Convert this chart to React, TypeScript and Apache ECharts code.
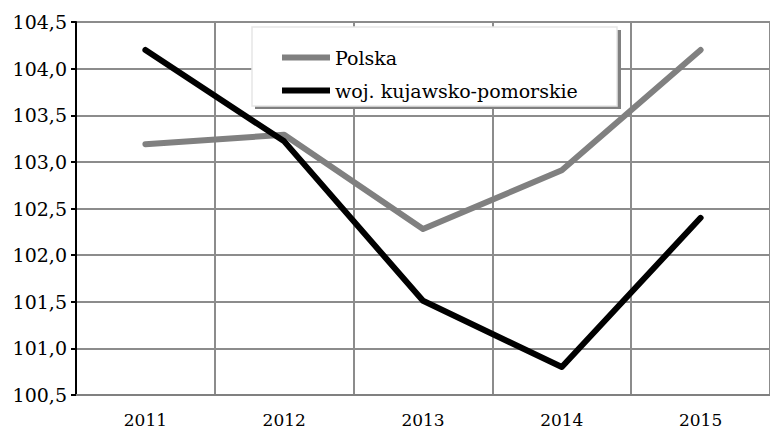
import React, { useEffect, useRef } from "react";
import * as echarts from "echarts";

const years = ["2011", "2012", "2013", "2014", "2015"];
const polska = [103.19, 103.29, 102.28, 102.91, 104.2];
const kujawsko = [104.2, 103.22, 101.51, 100.8, 102.4];
const seriesNames = ["Polska", "woj. kujawsko-pomorskie"];

const FONT = "DejaVu Serif";

export default function App() {
  const ref = useRef<HTMLDivElement>(null);
  useEffect(() => {
    if (!ref.current) return;
    const chart = echarts.init(ref.current, undefined, { renderer: "svg" });
    chart.setOption({
      animation: false,
      backgroundColor: "#fff",
      textStyle: { fontFamily: FONT },
      grid: {
        left: 76,
        top: 22,
        width: 700,
        bottom: 35,
        show: true,
        borderColor: "#000",
        borderWidth: 2,
        backgroundColor: "transparent",
      },
      graphic: [
        {
          type: "rect",
          shape: { x: 255, y: 30, width: 366, height: 79 },
          style: { fill: "#808080" },
          z: 10,
        },
        {
          type: "rect",
          shape: { x: 252, y: 27, width: 365, height: 79 },
          style: { fill: "#fff", stroke: "#e6e6e6", lineWidth: 1.5 },
          z: 11,
        },
      ],
      legend: {
        data: seriesNames,
        orient: "vertical",
        left: 277,
        top: 43,
        itemWidth: 48,
        itemHeight: 6,
        itemGap: 14,
        icon: "rect",
        z: 20,
        textStyle: { fontFamily: FONT, fontSize: 19, color: "#000" },
      },
      xAxis: {
        type: "category",
        data: years,
        boundaryGap: true,
        axisLine: { lineStyle: { color: "#808080", width: 2 } },
        axisTick: { show: false },
        axisLabel: {
          fontFamily: FONT,
          fontSize: 17,
          color: "#000",
          margin: 16,
        },
        splitLine: {
          show: true,
          interval: 0,
          lineStyle: { color: "#8c8c8c", width: 2 },
        },
      },
      yAxis: {
        type: "value",
        min: 100.5,
        max: 104.5,
        interval: 0.5,
        axisLine: { show: true, lineStyle: { color: "#000", width: 2 } },
        axisTick: { show: true, length: 5, lineStyle: { color: "#000", width: 2 } },
        axisLabel: {
          fontFamily: FONT,
          fontSize: 19,
          color: "#000",
          margin: 9,
          formatter: (v: number) => v.toFixed(1).replace(".", ","),
        },
        splitLine: { lineStyle: { color: "#8c8c8c", width: 2 } },
      },
      series: [
        {
          name: seriesNames[0],
          type: "line",
          data: polska,
          showSymbol: false,
          symbol: "none",
          itemStyle: { color: "#808080" },
          lineStyle: { color: "#808080", width: 6, cap: "round", join: "round" },
          z: 3,
        },
        {
          name: seriesNames[1],
          type: "line",
          data: kujawsko,
          showSymbol: false,
          symbol: "none",
          itemStyle: { color: "#000" },
          lineStyle: { color: "#000", width: 6, cap: "round", join: "round" },
          z: 4,
        },
      ],
    });
    return () => chart.dispose();
  }, []);
  return (
    <div
      ref={ref}
      style={{ position: "fixed", left: 0, top: 0, width: 770, height: 430 }}
    />
  );
}
